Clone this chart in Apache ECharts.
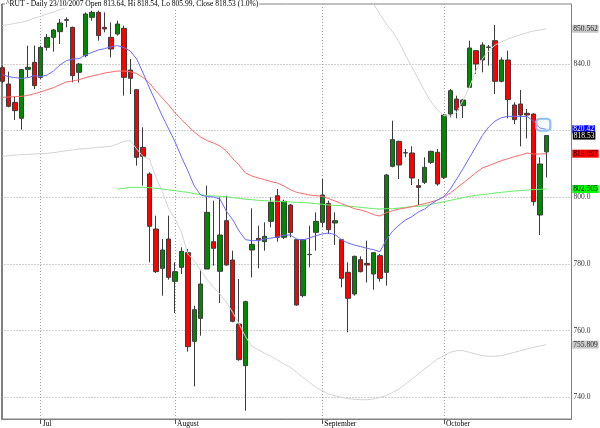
<!DOCTYPE html>
<html><head><meta charset="utf-8">
<script src="https://cdn.jsdelivr.net/npm/echarts@6/dist/echarts.min.js"></script>
<style>html,body{margin:0;padding:0;background:#fff}#c{width:600px;height:428px}</style>
</head><body><div id="c"></div>
<script>
const titleText = '^RUT - Daily 23/10/2007 Open 813.64, Hi 818.54, Lo 805.99, Close 818.53 (1.0%)';
const monthLabels = ['Jul', 'August', 'September', 'October'];
const monthStarts = [6, 27, 50, 69];
const yTicks = [740, 760, 780, 800, 820, 840];

const opens = [838.9,834.0,828.5,823.7,838.4,840.5,836.0,845.0,848.0,849.7,
853.1,851.0,837.5,842.5,854.0,855.5,851.0,848.0,849.0,850.7,
838.2,832.3,815.0,807.0,790.5,778.7,787.5,774.8,779.0,783.4,
756.8,763.7,778.5,786.7,777.8,793.0,781.2,762.0,749.5,784.2,
787.7,786.7,792.8,800.5,788.0,797.7,787.3,770.5,782.8,789.5,
792.5,798.2,792.3,787.3,777.5,771.0,781.3,780.2,777.0,782.5,
777.5,809.3,816.8,813.3,813.3,803.5,804.5,810.5,813.5,806.0,
825.0,829.5,827.5,833.0,844.0,841.2,845.0,847.0,834.8,841.2,
827.7,828.0,825.2,825.0,794.7,813.64];
const closes = [834.8,827.3,826.0,838.3,839.0,833.5,845.0,848.0,850.2,852.3,
853.3,836.5,840.0,855.0,855.5,848.5,850.5,844.5,852.0,836.0,
835.7,812.0,812.3,791.3,777.7,784.2,776.0,777.7,783.8,755.2,
766.3,774.0,795.5,784.7,788.7,779.7,762.8,751.3,768.7,785.9,
787.2,788.3,798.5,788.0,798.8,789.4,767.7,787.3,782.9,792.8,
800.7,790.3,793.0,775.7,769.7,782.3,777.7,779.7,783.4,775.7,
806.7,817.3,809.7,813.4,805.8,803.0,809.0,813.8,804.0,824.7,
832.0,826.2,829.2,844.8,840.0,845.7,845.1,834.8,841.2,829.3,
823.3,824.7,824.7,798.7,810.0,818.53];
const lows = [834.3,827.0,823.2,820.3,836.0,832.5,835.5,844.0,843.7,846.0,
851.0,834.5,834.5,842.0,853.0,847.0,849.5,842.0,848.5,830.5,
831.0,809.5,803.5,780.5,777.3,770.5,775.3,765.3,777.0,753.7,
743.3,758.5,778.5,779.5,768.3,779.5,762.5,751.0,736.0,776.0,
778.7,784.0,791.0,786.7,787.5,788.0,767.5,770.0,779.0,784.0,
791.0,789.0,785.7,773.0,759.5,770.5,777.5,774.5,772.3,774.7,
773.5,809.0,805.5,812.0,803.7,797.7,804.0,810.0,803.5,805.5,
824.0,823.7,823.8,833.0,837.0,837.5,839.5,831.0,834.5,823.7,
822.0,815.3,817.7,797.5,788.7,805.99];
const highs = [839.5,837.7,830.3,838.5,845.5,845.5,845.5,849.0,850.5,853.5,
854.0,851.2,840.3,855.5,856.0,856.0,855.5,852.5,853.0,851.5,
841.5,832.5,821.0,807.5,794.5,787.5,794.5,780.5,785.0,784.5,
767.5,778.3,803.5,799.0,800.0,800.5,784.0,775.5,769.0,796.7,
791.5,792.5,800.0,802.5,799.3,798.0,787.5,787.5,791.5,795.5,
805.5,799.0,795.5,787.5,780.5,782.5,782.3,787.0,783.5,783.0,
807.0,823.0,817.0,814.5,815.3,805.5,812.0,814.0,814.5,825.0,
832.5,830.5,829.5,847.0,844.2,846.5,845.7,851.7,842.0,844.0,
828.5,832.2,826.5,825.2,812.0,818.54];

const ma20 = [836.8,836.2,835.9,835.7,835.9,836.5,836.2,836.7,837.9,839.7,
841.0,841.5,841.6,842.7,843.5,844.2,844.6,845.2,845.5,844.9,
843.9,841.5,837.3,832.8,828.6,824.4,820.5,816.6,812.1,807.9,
803.4,800.7,800.2,800.1,799.5,795.9,793.3,789.9,787.3,787.0,
787.0,787.5,787.8,788.1,788.7,788.7,787.5,787.2,787.8,788.5,
789.0,789.3,788.8,787.3,786.3,785.7,785.2,784.7,784.3,783.7,
787.2,789.9,791.7,793.2,794.2,795.6,796.5,798.0,799.2,800.2,
802.5,805.5,808.6,811.9,815.2,818.5,821.1,822.9,823.9,824.3,
824.3,824.3,824.2,822.9,820.8,820.42];
const ma50 = [830.0,830.1,830.2,830.3,830.6,831.1,831.6,832.3,832.9,833.8,
834.6,834.9,835.3,835.9,836.4,836.8,837.3,837.6,837.9,837.9,
837.7,837.1,835.9,834.3,831.9,829.8,827.7,825.3,823.3,821.4,
819.6,818.1,817.0,816.3,815.4,813.9,811.6,809.7,807.3,806.4,
805.8,805.3,804.7,804.3,803.4,802.3,801.5,801.1,800.7,800.5,
800.3,799.6,798.9,798.1,797.4,796.6,796.2,795.6,794.8,794.4,
795.4,796.0,796.5,796.8,797.2,797.7,798.1,798.6,799.2,800.1,
801.3,802.8,804.3,805.8,807.4,808.8,809.5,810.3,811.0,811.6,
812.2,812.7,813.3,813.0,813.0,813.097];
const ma200Start = 18;
const ma200 = [802.5,802.7,803.0,803.0,803.0,802.9,802.7,802.5,802.2,802.0,
801.7,801.5,801.1,800.8,800.5,800.4,800.3,800.2,799.9,799.7,
799.4,799.3,799.1,799.0,798.9,798.8,798.7,798.6,798.5,798.4,
798.3,798.1,797.9,797.7,797.6,797.5,797.3,797.2,797.0,796.8,
796.6,796.5,796.6,796.6,796.8,797.0,797.2,797.3,797.5,797.9,
798.3,798.7,799.1,799.5,799.9,800.3,800.6,800.8,801.0,801.3,
801.5,801.7,801.9,802.0,802.2,802.3,802.4,802.505];
const bbUpper = [851.5,851.8,852.2,852.5,853.0,853.8,854.3,855.0,855.6,856.3,
857.0,857.4,857.6,857.8,858.5,859.5,860.5,861.5,862.5,863.5,
864.5,866,868,870,872,874,875,876,877,877,
877,877,876,876,875,875,874,873,872,871,
870,869.5,869,868.5,868,867.5,867,866.5,866,865.5,
865,864.5,864,863.5,863,862.5,861.5,860.5,858.0,855.0,
852.0,849.6,846.6,842.7,839.1,835.5,831.9,828.6,826.2,824.5,
824.4,825.5,829.2,833.1,838.0,841.5,843.9,845.7,846.6,847.5,
848.1,848.8,849.4,849.9,850.2,850.562];
const bbLower = [812.3,812.5,812.7,812.8,812.9,813.0,813.1,813.2,813.4,813.7,
814.0,814.2,814.5,814.6,814.8,815.0,815.1,815.3,816.0,816.8,
817.0,814.5,812.2,811.5,806.0,801.8,796.5,793.5,789.5,783.0,
781.0,778.0,775.4,773.0,771.0,768.6,765.5,762.0,758.2,755.3,
754.3,753.2,752.3,751.2,750.0,749.0,747.5,746.0,744.5,743.0,
742.0,741.0,740.5,740.0,739.6,739.4,739.3,739.3,739.5,740.0,
740.5,741.5,742.5,744.0,745.5,747.0,748.5,750.0,751.5,752.5,
753.5,754.0,754.0,753.5,753.0,752.5,752.3,752.3,752.5,753.0,
753.5,754.0,754.5,755.0,755.4,755.809];

const serif = '"Liberation Serif", "DejaVu Serif", serif';
const pts = (arr, start) => arr.map((v, k) => [k + (start || 0), v]);
const last = opens.length - 1;
const candleData = opens.map((o, k) => [k, o, closes[k], lows[k], highs[k]]);
const endLab = (bg, fg) => ({
  show: true, formatter: p => String(p.value[1]), distance: 26,
  backgroundColor: bg, color: fg, fontFamily: serif, fontSize: 7.5,
  lineHeight: 8, padding: [0, 1, 0, 1]
});
const lineS = (name, data, color, lab) => ({
  name, type: 'line', data, showSymbol: false, symbol: 'none',
  lineStyle: { color, width: 1 }, itemStyle: { color }, z: 3,
  endLabel: lab, clip: true, silent: true
});

const chart = echarts.init(document.getElementById('c'), null, { renderer: 'canvas', width: 600, height: 428 });
chart.setOption({
  animation: false,
  backgroundColor: '#fff',
  title: {
    text: titleText, left: 5, top: 0, padding: [0, 1],
    backgroundColor: '#fff',
    textStyle: { fontFamily: serif, fontSize: 7.5, fontWeight: 'normal', color: '#000', lineHeight: 8 }
  },
  grid: { left: 1.5, right: 28.5, top: 4, bottom: 7.5, show: true, borderColor: '#808080', borderWidth: 1 },
  xAxis: {
    type: 'value', min: -0.125, max: 88.94,
    axisLine: { show: true, lineStyle: { color: '#808080' } },
    axisTick: { show: true, customValues: monthStarts, length: 5, lineStyle: { color: '#555' } },
    axisLabel: {
      customValues: monthStarts, formatter: v => monthLabels[monthStarts.indexOf(v)],
      align: 'left', margin: 1, padding: [0, 0, 0, 2], fontFamily: serif, fontSize: 7.5, color: '#000'
    },
    splitLine: { show: true, lineStyle: { color: '#a0a0a0', type: [1, 2] } }
  },
  yAxis: {
    type: 'value', position: 'right', min: 733.5, max: 858,
    axisLine: { show: true, lineStyle: { color: '#808080' } },
    axisTick: { show: false, customValues: yTicks },
    axisLabel: { customValues: yTicks, formatter: v => v.toFixed(1), margin: 2, fontFamily: serif, fontSize: 7.5, color: '#333' },
    splitLine: { show: true, lineStyle: { color: '#a0a0a0', type: [1, 2] } }
  },
  series: [
    {
      name: 'RUT', type: 'candlestick', data: candleData, barWidth: 5, z: 2,
      itemStyle: { color: '#008800', color0: '#ff0000', borderColor: '#3c3c3c', borderColor0: '#3c3c3c', borderWidth: 1 },
      markPoint: {
        symbol: 'rect', symbolSize: 1, itemStyle: { color: 'rgba(0,0,0,0)' }, silent: true,
        label: { show: true, position: 'right', distance: 26, formatter: closes[last].toFixed(2),
          backgroundColor: '#000', color: '#fff', fontFamily: serif, fontSize: 7.5, lineHeight: 8, padding: [0, 1, 0, 1] },
        data: [{ coord: [last, closes[last]] }]
      }
    },
    lineS('BB upper', pts(bbUpper), '#d4d4d4', endLab('#c8c8c8', '#333')),
    lineS('BB lower', pts(bbLower), '#d4d4d4', endLab('#c8c8c8', '#333')),
    lineS('MA200', pts(ma200, ma200Start), '#66ee66', endLab('#00ff00', '#000')),
    lineS('MA50', pts(ma50), '#ff6a6a', endLab('#ff0000', '#000')),
    Object.assign(lineS('MA20', pts(ma20), '#6a6aff', endLab('#0000ff', '#fff')), {
      markPoint: {
        symbol: 'roundRect', symbolSize: [14, 12], symbolOffset: [-3, -4.5], silent: true,
        itemStyle: { color: 'rgba(220,235,255,0.25)', borderColor: '#8ebff0', borderWidth: 2 },
        label: { show: false },
        data: [{ coord: [last, ma20[last]] }]
      }
    })
  ]
});
</script></body></html>
